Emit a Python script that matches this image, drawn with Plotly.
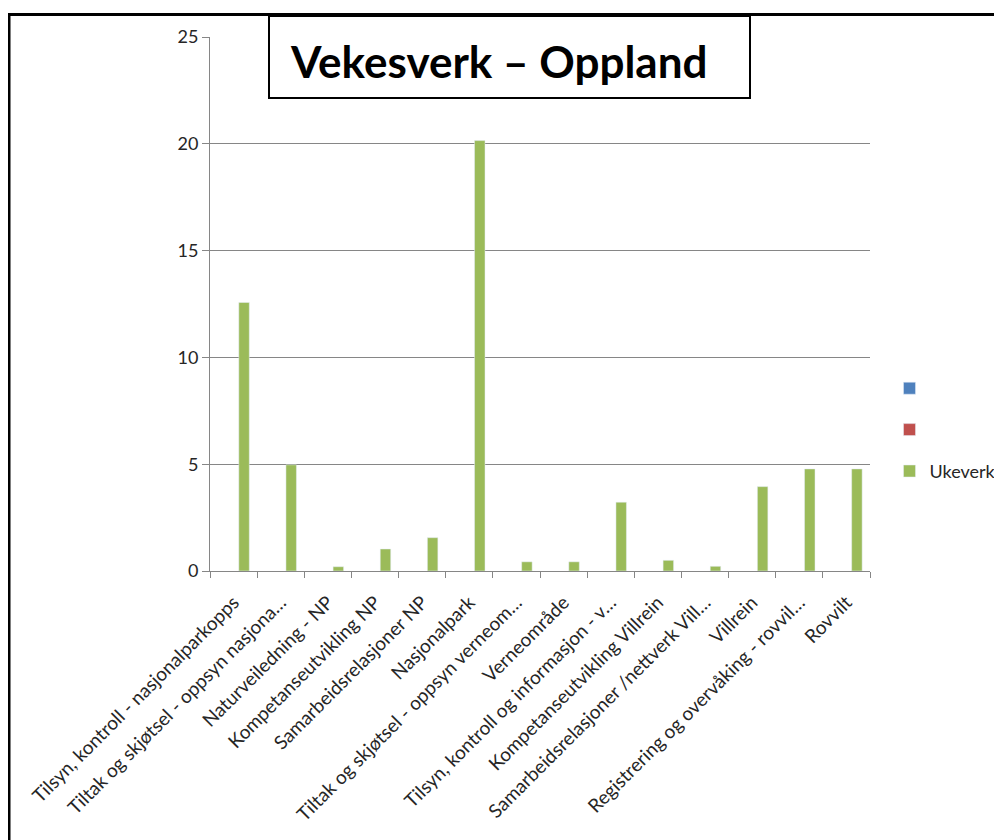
import plotly.graph_objects as go

categories = [
    "Tilsyn, kontroll - nasjonalparkopps",
    "Tiltak og skjøtsel - oppsyn nasjona…",
    "Naturveiledning - NP",
    "Kompetanseutvikling NP",
    "Samarbeidsrelasjoner NP",
    "Nasjonalpark",
    "Tiltak og skjøtsel - oppsyn verneom…",
    "Verneområde",
    "Tilsyn, kontroll og informasjon - v…",
    "Kompetanseutvikling Villrein",
    "Samarbeidsrelasjoner /nettverk Vill…",
    "Villrein",
    "Registrering og overvåking - rovvil…",
    "Rovvilt",
]
series1_values = [None] * 14
series2_values = [None] * 14
ukeverk_values = [12.57, 4.97, 0.2, 1.03, 1.56, 20.15, 0.43, 0.43, 3.22, 0.5, 0.22, 3.95, 4.78, 4.78]
y_ticks = [0, 5, 10, 15, 20, 25]
title_text = "Vekesverk – Oppland"

# page body has an 8px margin, so the figure is laid out in page coords minus 8
W, H = 994, 832
L, R, T, B = 202, 132, 29, 269
PW, PH = W - L - R, H - T - B

def px(x):
    return (x - L) / PW

def py(y):
    return 1 - (y - T) / PH

FONT = "Lato, Open Sans, sans-serif"
TXT = "#262626"
GRID = "#868686"

fig = go.Figure()
fig.add_trace(go.Bar(x=categories, y=series1_values, name=" ", marker_color="#4F81BD",
                     legendgroup="a"))
fig.add_trace(go.Bar(x=categories, y=series2_values, name=" ", marker_color="#C0504D",
                     legendgroup="b"))
fig.add_trace(go.Bar(x=categories, y=ukeverk_values, name="Ukeverk", marker_color="#9BBB59",
                     legendgroup="c"))

fig.update_layout(
    width=W, height=H,
    margin=dict(l=L, r=R, t=T, b=B, autoexpand=False),
    paper_bgcolor="white", plot_bgcolor="white",
    barmode="group", bargap=1/3, bargroupgap=0,
    font=dict(family=FONT, color=TXT, size=18),
    legend=dict(x=px(881.5), y=py(422), yanchor="middle", xanchor="left",
                traceorder="grouped", tracegroupgap=15,
                font=dict(size=18, color=TXT), bgcolor="rgba(0,0,0,0)"),
    xaxis=dict(type="category", tickangle=-45, tickson="boundaries", ticks="outside",
               ticklen=6, tickcolor=GRID, showline=True, linecolor=GRID,
               linewidth=1, showgrid=False, ticklabelstandoff=12,
               tickfont=dict(size=19, color=TXT)),
    yaxis=dict(range=[0, 25], tickvals=y_ticks, ticks="outside", ticklen=7,
               tickcolor=GRID, showline=True, linecolor=GRID, linewidth=1,
               showgrid=True, gridcolor=GRID, gridwidth=1, zeroline=False,
               tickfont=dict(size=18, color=TXT)),
    annotations=[dict(
        text="<b>" + title_text + "</b>", xref="paper", yref="paper",
        x=px(280), y=py(53), xanchor="left", yanchor="middle",
        showarrow=False, font=dict(size=44, color="black", family=FONT),
    )],
    shapes=[
        dict(type="rect", xref="paper", yref="paper", x0=px(261), x1=px(742), y0=py(8), y1=py(90),
             line=dict(color="black", width=2), fillcolor="white", layer="above"),
        dict(type="line", xref="paper", yref="paper", x0=px(0), x1=px(994), y0=py(6.5), y1=py(6.5),
             line=dict(color="black", width=3)),
        dict(type="line", xref="paper", yref="paper", x0=px(1), x1=px(1), y0=py(5), y1=py(832),
             line=dict(color="black", width=3)),
    ],
)

fig.write_html("out.html")
